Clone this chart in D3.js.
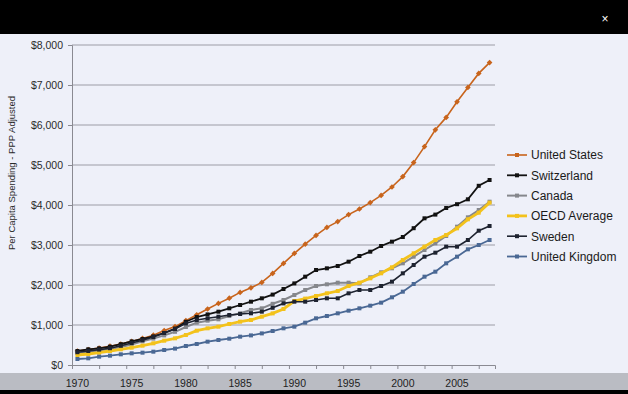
<!DOCTYPE html>
<html>
<head>
<meta charset="utf-8">
<script src="https://cdn.jsdelivr.net/npm/d3@7"></script>
<style>
  body { margin: 0; background: #000; }
  svg { display: block; font-family: "Liberation Sans", Arial, sans-serif; }
</style>
</head>
<body>
<script>
// per capita health spending, PPP adjusted, 1970-2008
let years = d3.range(1970, 2009);
let yTicks = [0, 1000, 2000, 3000, 4000, 5000, 6000, 7000, 8000];
let xLabels = [1970, 1975, 1980, 1985, 1990, 1995, 2000, 2005];
let seriesNames = ["United States", "Switzerland", "Canada", "OECD Average", "Sweden", "United Kingdom"];

let unitedStates = [350, 385, 425, 470, 525, 590, 665, 745, 860, 960,
    1110, 1255, 1400, 1540, 1670, 1815, 1930, 2065, 2290, 2540,
    2790, 3020, 3240, 3440, 3585, 3760, 3900, 4060, 4240, 4450,
    4710, 5060, 5460, 5880, 6190, 6580, 6940, 7290, 7560];
let switzerland = [350, 392, 417, 458, 520, 590, 650, 715, 800, 910,
    1080, 1200, 1265, 1333, 1417, 1500, 1583, 1667, 1760, 1900,
    2040, 2208, 2375, 2417, 2475, 2583, 2725, 2833, 2975, 3083,
    3200, 3420, 3667, 3760, 3925, 4020, 4142, 4480, 4625];
let canada = [300, 330, 365, 400, 450, 510, 590, 660, 740, 830,
    950, 1058, 1108, 1142, 1225, 1292, 1375, 1417, 1530, 1625,
    1750, 1875, 1975, 2017, 2058, 2058, 2042, 2192, 2317, 2417,
    2542, 2708, 2875, 3042, 3225, 3458, 3692, 3875, 4083];
let oecdAverage = [250, 275, 308, 350, 392, 433, 483, 542, 608, 667,
    750, 858, 917, 958, 1025, 1083, 1125, 1208, 1290, 1400,
    1600, 1660, 1725, 1792, 1850, 1975, 2058, 2167, 2292, 2442,
    2625, 2792, 2958, 3125, 3250, 3417, 3642, 3808, 4060];
let sweden = [320, 350, 385, 420, 480, 550, 620, 700, 800, 900,
    1040, 1125, 1167, 1208, 1250, 1275, 1292, 1333, 1430, 1540,
    1583, 1583, 1625, 1667, 1667, 1792, 1875, 1875, 1975, 2083,
    2292, 2500, 2708, 2808, 2958, 2958, 3125, 3358, 3475];
let unitedKingdom = [150, 167, 208, 233, 267, 292, 308, 333, 375, 410,
    475, 525, 583, 625, 658, 708, 740, 790, 850, 917,
    958, 1058, 1167, 1225, 1292, 1358, 1417, 1483, 1558, 1692,
    1833, 2025, 2208, 2333, 2542, 2708, 2892, 3000, 3125];

let seriesValues = [unitedStates, switzerland, canada, oecdAverage, sweden, unitedKingdom];
let colors = ["#c8641c", "#121212", "#85878c", "#f3c21c", "#1e2330", "#4a6894"];
let lineWidths = [1.6, 1.8, 2, 2.8, 1.6, 1.8];

let width = 628,
    height = 394;

let svg = d3.select("body")
    .append("svg")
    .attr("width", width)
    .attr("height", height);

// frame: black top bar, light plot area, grey label strip
svg.append("rect").attr("width", width).attr("height", height).attr("fill", "#000");
svg.append("rect").attr("y", 34).attr("width", width).attr("height", 339).attr("fill", "#eef0f9");
svg.append("rect").attr("y", 373).attr("width", width).attr("height", 17).attr("fill", "#babcc3");
svg.append("text")
    .attr("x", 605).attr("y", 23)
    .attr("text-anchor", "middle")
    .attr("fill", "#fff")
    .style("font-size", "12px")
    .text("×");

let x = d3.scaleLinear().domain([1969.5, 2008.5]).range([72, 495]);
let y = d3.scaleLinear().domain([0, 8000]).range([365, 45]);

// gridlines
svg.append("g")
    .selectAll("line")
    .data(yTicks.slice(1))
    .enter().append("line")
    .attr("x1", 72).attr("x2", 495)
    .attr("y1", d => y(d)).attr("y2", d => y(d))
    .style("stroke", "#9c9ca6")
    .style("stroke-width", 1);

// y axis
let yAxis = svg.append("g")
    .attr("transform", "translate(72,0)")
    .call(d3.axisLeft(y).tickValues(yTicks).tickSize(4).tickPadding(5).tickFormat(d3.format("$,")));
yAxis.select(".domain").style("stroke", "#8a8a92");
yAxis.selectAll(".tick line").style("stroke", "#8a8a92");
yAxis.selectAll("text").style("font-size", "10.5px").style("fill", "#2a2a2a")
    .style("font-family", "'Liberation Sans', Arial, sans-serif");

// x axis: ticks only, labels sit in the grey strip
let xAxis = svg.append("g")
    .attr("transform", "translate(0,365)")
    .call(d3.axisBottom(x).tickValues(d3.range(1969.5, 2008, 2.5)).tickSize(4).tickFormat(""));
xAxis.select(".domain").style("stroke", "#8a8a92");
xAxis.selectAll(".tick line").style("stroke", "#8a8a92");

svg.append("g")
    .selectAll("text")
    .data(xLabels)
    .enter().append("text")
    .attr("x", d => x(d))
    .attr("y", 387)
    .attr("text-anchor", "middle")
    .style("font-size", "10.5px")
    .style("fill", "#1e1e1e")
    .text(d => d);

// axis title
svg.append("text")
    .attr("transform", "translate(15,173) rotate(-90)")
    .attr("text-anchor", "middle")
    .style("font-size", "9.5px")
    .style("fill", "#2a2a2a")
    .text("Per Capita Spending - PPP Adjusted");

let line = d3.line()
    .x((d, i) => x(years[i]))
    .y(d => y(d));

let series = svg.append("g")
    .selectAll("g")
    .data(seriesValues)
    .enter().append("g");

series.append("path")
    .attr("d", d => line(d))
    .style("fill", "none")
    .style("stroke", (d, i) => colors[i])
    .style("stroke-width", (d, i) => lineWidths[i]);

series.each(function(vals, s) {
    d3.select(this).selectAll("rect")
        .data(vals)
        .enter().append("rect")
        .attr("x", (d, i) => x(years[i]) - 2)
        .attr("y", d => y(d) - 2)
        .attr("width", 4)
        .attr("height", 4)
        .attr("transform", (d, i) => s === 0 ? "rotate(45," + x(years[i]) + "," + y(d) + ")" : null)
        .style("fill", colors[s]);
});

// legend
let legend = svg.append("g")
    .selectAll("g")
    .data(seriesNames)
    .enter().append("g")
    .attr("transform", (d, i) => "translate(507," + (155 + i * 20.3) + ")");

legend.append("line")
    .attr("x1", 0).attr("x2", 20)
    .style("stroke", (d, i) => colors[i])
    .style("stroke-width", (d, i) => lineWidths[i]);

legend.append("rect")
    .attr("x", 8).attr("y", -2)
    .attr("width", 4).attr("height", 4)
    .style("fill", (d, i) => colors[i]);

legend.append("text")
    .attr("x", 24)
    .attr("dy", "0.36em")
    .style("font-size", "12px")
    .style("fill", "#1a1a1a")
    .text(d => d);
</script>
</body>
</html>
